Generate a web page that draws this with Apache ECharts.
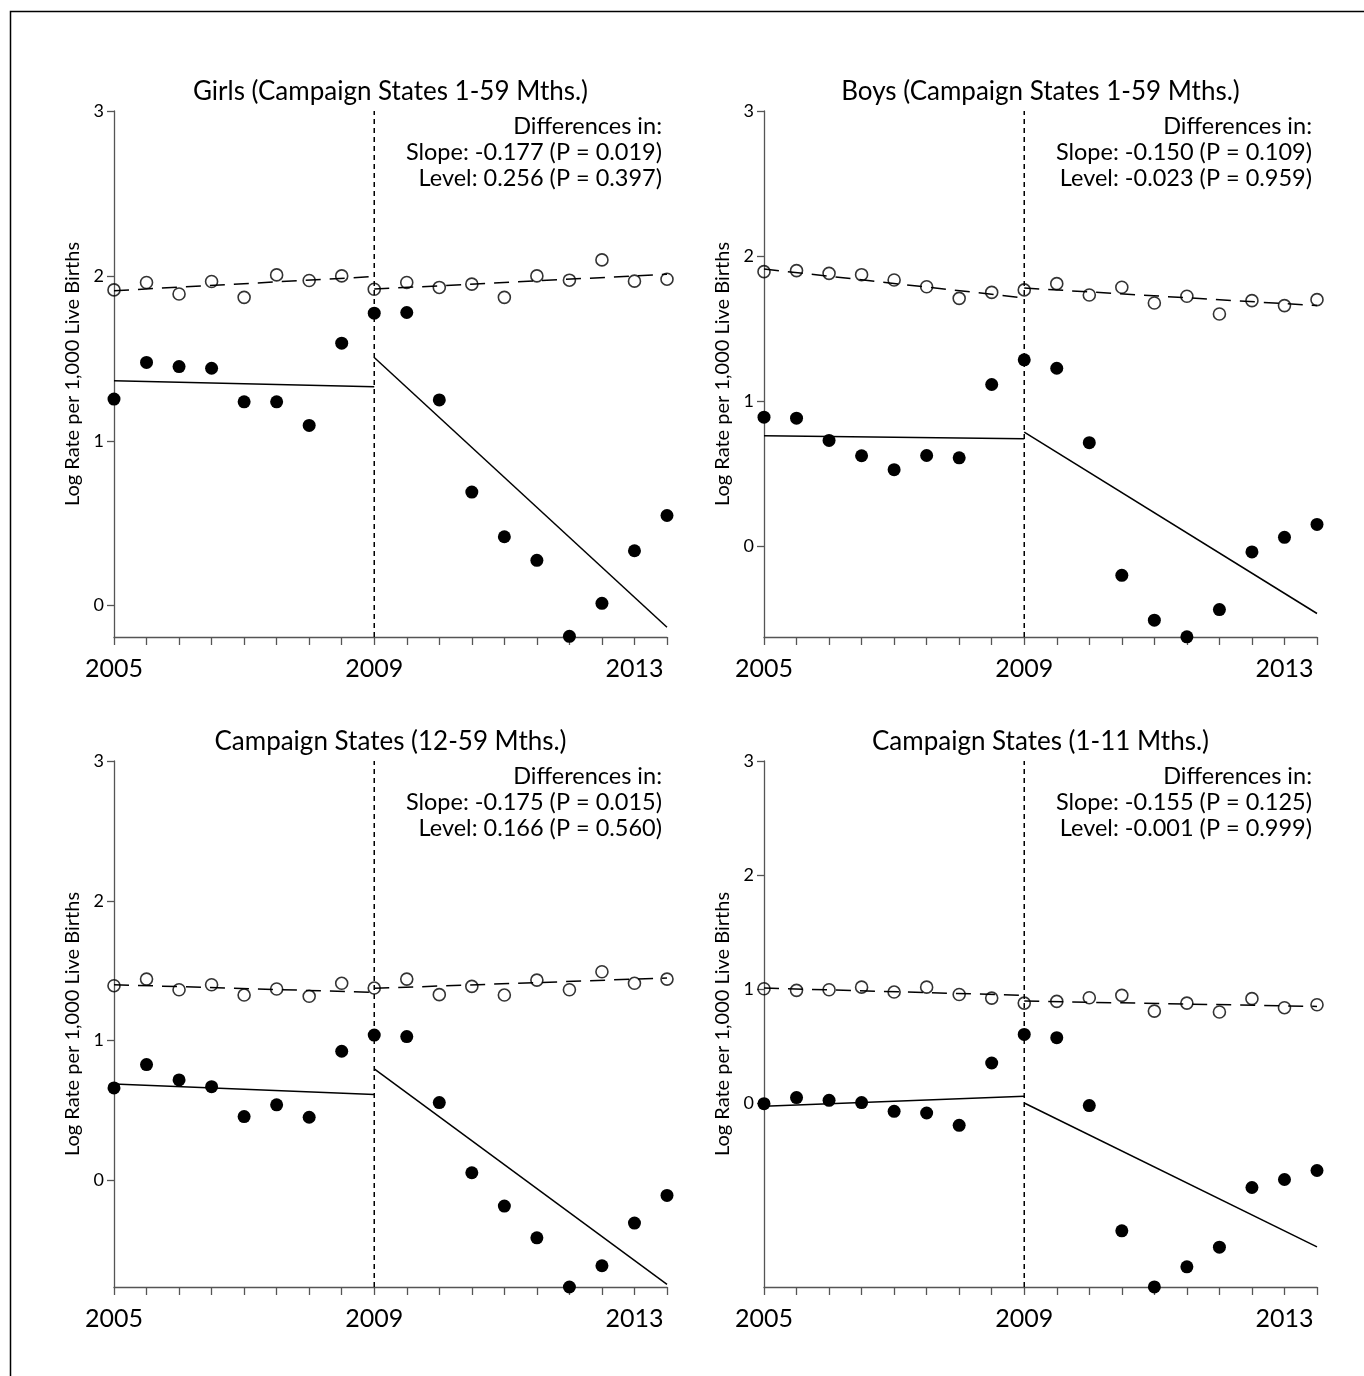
<!DOCTYPE html>
<html>
<head>
<meta charset="utf-8">
<script src="https://cdn.jsdelivr.net/npm/echarts@6/dist/echarts.min.js"></script>
<style>
html,body{margin:0;padding:0;background:#fff;}
#chart{width:1364px;height:1376px;}
</style>
</head>
<body>
<div id="chart"></div>
<script>
// ---- data ----
var years = [2005, 2005.5, 2006, 2006.5, 2007, 2007.5, 2008, 2008.5, 2009, 2009.5, 2010, 2010.5, 2011, 2011.5, 2012, 2012.5, 2013, 2013.5];
var xTickValues = [2005, 2005.5, 2006, 2006.5, 2007, 2007.5, 2008, 2008.5, 2009, 2009.5, 2010, 2010.5, 2011, 2011.5, 2012, 2012.5, 2013, 2013.5];
var xLabelValues = [2005, 2009, 2013];
var yLabelValues = [0, 1, 2, 3];
var breakYear = 2009;
var endYear = 2013.5;

var titles = [
  'Girls (Campaign States 1-59 Mths.)',
  'Boys (Campaign States 1-59 Mths.)',
  'Campaign States (12-59 Mths.)',
  'Campaign States (1-11 Mths.)'
];
var slopeText = ['Slope: -0.177 (P = 0.019)', 'Slope: -0.150 (P = 0.109)', 'Slope: -0.175 (P = 0.015)', 'Slope: -0.155 (P = 0.125)'];
var levelText = ['Level: 0.256 (P = 0.397)', 'Level: -0.023 (P = 0.959)', 'Level: 0.166 (P = 0.560)', 'Level: -0.001 (P = 0.999)'];
var yMins = [-0.19, -0.625, -0.762, -1.61];

// Girls
var girlsControl = [1.915, 1.96, 1.89, 1.966, 1.87, 2.006, 1.972, 2.0, 1.919, 1.96, 1.93, 1.95, 1.87, 2.0, 1.974, 2.097, 1.968, 1.98];
var girlsCampaign = [1.253, 1.475, 1.45, 1.44, 1.236, 1.236, 1.093, 1.592, 1.774, 1.778, 1.248, 0.689, 0.418, 0.275, -0.186, 0.014, 0.333, 0.547];
var girlsControlFit = [1.91, 1.996, 1.92, 2.01];     // pre start, pre end, post start, post end
var girlsCampaignFit = [1.364, 1.327, 1.505, -0.131];

// Boys
var boysControl = [1.893, 1.90, 1.881, 1.872, 1.835, 1.789, 1.709, 1.75, 1.767, 1.81, 1.732, 1.785, 1.677, 1.723, 1.601, 1.693, 1.659, 1.70];
var boysCampaign = [0.89, 0.883, 0.73, 0.624, 0.528, 0.626, 0.61, 1.115, 1.285, 1.227, 0.714, -0.2, -0.509, -0.624, -0.436, -0.039, 0.062, 0.151];
var boysControlFit = [1.911, 1.712, 1.78, 1.659];
var boysCampaignFit = [0.762, 0.741, 0.787, -0.463];

// 12-59 months
var olderControl = [1.393, 1.44, 1.364, 1.40, 1.326, 1.369, 1.317, 1.41, 1.376, 1.44, 1.329, 1.388, 1.326, 1.433, 1.364, 1.493, 1.41, 1.44];
var olderCampaign = [0.662, 0.829, 0.719, 0.671, 0.457, 0.541, 0.452, 0.924, 1.04, 1.029, 0.557, 0.055, -0.183, -0.41, -0.762, -0.61, -0.305, -0.107];
var olderControlFit = [1.40, 1.345, 1.374, 1.448];
var olderCampaignFit = [0.69, 0.614, 0.798, -0.743];

// 1-11 months
var infantControl = [1.004, 0.99, 0.995, 1.018, 0.975, 1.018, 0.954, 0.922, 0.878, 0.893, 0.925, 0.946, 0.808, 0.878, 0.80, 0.917, 0.838, 0.864];
var infantCampaign = [-0.003, 0.05, 0.026, 0.006, -0.07, -0.085, -0.193, 0.353, 0.604, 0.575, -0.02, -1.118, -1.609, -1.433, -1.261, -0.738, -0.668, -0.589];
var infantControlFit = [1.01, 0.946, 0.896, 0.849];
var infantCampaignFit = [-0.026, 0.061, 0.003, -1.258];

var controls = [girlsControl, boysControl, olderControl, infantControl];
var campaigns = [girlsCampaign, boysCampaign, olderCampaign, infantCampaign];
var controlFits = [girlsControlFit, boysControlFit, olderControlFit, infantControlFit];
var campaignFits = [girlsCampaignFit, boysCampaignFit, olderCampaignFit, infantCampaignFit];

// ---- layout ----
var FONT = 'Lato';
var panelLeft = [114, 764, 114, 764];
var panelTop = [111, 111, 761, 761];
var panelW = 553, panelH = 526;
var axisColor = '#555';

var option = {
  backgroundColor: '#fff',
  animation: false,
  title: [],
  grid: [],
  xAxis: [],
  yAxis: [],
  series: [],
  graphic: []
};

option.graphic.push({
  type: 'rect', shape: {x: 10.5, y: 11.5, width: 1500, height: 1500},
  style: {fill: 'none', stroke: '#000', lineWidth: 1.5}, silent: true, z: -1
});

function pairs(vals) {
  return years.map(function (y, i) { return [y, vals[i]]; });
}

for (var p = 0; p < 4; p++) {
  var L = panelLeft[p], T = panelTop[p];
  option.grid.push({left: L, top: T, width: panelW, height: panelH, containLabel: false});
  option.title.push({
    text: titles[p], left: L + panelW / 2, top: T - 32, textAlign: 'center', padding: 0,
    textStyle: {fontFamily: FONT, fontSize: 26, fontWeight: 'normal', color: '#000'}
  });
  option.xAxis.push({
    type: 'value', gridIndex: p, min: years[0], max: endYear,
    axisLine: {show: true, onZero: false, lineStyle: {color: axisColor, width: 1.3}},
    axisTick: {show: true, length: 8, customValues: xTickValues, lineStyle: {color: axisColor, width: 1.3}},
    axisLabel: {customValues: xLabelValues, margin: 19, fontFamily: FONT, fontSize: 25, color: '#000',
      formatter: function (v) { return String(v); }},
    splitLine: {show: false}
  });
  option.yAxis.push({
    type: 'value', gridIndex: p, min: yMins[p], max: 3,
    name: 'Log Rate per 1,000 Live Births', nameLocation: 'middle', nameGap: 31,
    nameTextStyle: {fontFamily: FONT, fontSize: 20, color: '#000'},
    axisLine: {show: true, onZero: false, lineStyle: {color: axisColor, width: 1.3}},
    axisTick: {show: true, length: 7, customValues: yLabelValues, lineStyle: {color: axisColor, width: 1.3}},
    axisLabel: {customValues: yLabelValues, margin: 10, fontFamily: FONT, fontSize: 18, color: '#000'},
    splitLine: {show: false}
  });

  // vertical break line
  option.series.push({
    type: 'line', xAxisIndex: p, yAxisIndex: p, symbol: 'none', silent: true,
    data: [[breakYear, yMins[p]], [breakYear, 3]],
    lineStyle: {color: '#000', width: 1.5, type: [5, 4]}, z: 1
  });

  var cf = controlFits[p], tf = campaignFits[p];
  // control fit (dashed)
  option.series.push({
    type: 'line', xAxisIndex: p, yAxisIndex: p, symbol: 'none', silent: true,
    data: [[years[0], cf[0]], [breakYear, cf[1]]],
    lineStyle: {color: '#000', width: 1.5, type: [15, 9]}, z: 2
  });
  option.series.push({
    type: 'line', xAxisIndex: p, yAxisIndex: p, symbol: 'none', silent: true,
    data: [[breakYear, cf[2]], [endYear, cf[3]]],
    lineStyle: {color: '#000', width: 1.5, type: [15, 9]}, z: 2
  });
  // campaign fit (solid)
  option.series.push({
    type: 'line', xAxisIndex: p, yAxisIndex: p, symbol: 'none', silent: true,
    data: [[years[0], tf[0]], [breakYear, tf[1]]],
    lineStyle: {color: '#000', width: 1.5}, z: 2
  });
  option.series.push({
    type: 'line', xAxisIndex: p, yAxisIndex: p, symbol: 'none', silent: true,
    data: [[breakYear, tf[2]], [endYear, tf[3]]],
    lineStyle: {color: '#000', width: 1.5}, z: 2
  });

  // points
  option.series.push({
    type: 'scatter', xAxisIndex: p, yAxisIndex: p, clip: false,
    symbol: 'circle', symbolSize: 12,
    itemStyle: {color: 'rgba(255,255,255,0)', borderColor: '#000', borderWidth: 1.6},
    data: pairs(controls[p]), z: 3
  });
  option.series.push({
    type: 'scatter', xAxisIndex: p, yAxisIndex: p, clip: false,
    symbol: 'circle', symbolSize: 13,
    itemStyle: {color: '#000', opacity: 1},
    data: pairs(campaigns[p]), z: 3
  });

  // annotation text
  var tx = L + panelW - 5;
  var lines = ['Differences in:', slopeText[p], levelText[p]];
  for (var k = 0; k < 3; k++) {
    option.graphic.push({
      type: 'text', x: tx, y: T + 15 + k * 26,
      style: {text: lines[k], textAlign: 'right', textVerticalAlign: 'middle',
        fontFamily: FONT, fontSize: 23.5, fill: '#000'},
      silent: true
    });
  }
}

var chart = echarts.init(document.getElementById('chart'), null, {renderer: 'canvas'});
chart.setOption(option);
</script>
</body>
</html>
